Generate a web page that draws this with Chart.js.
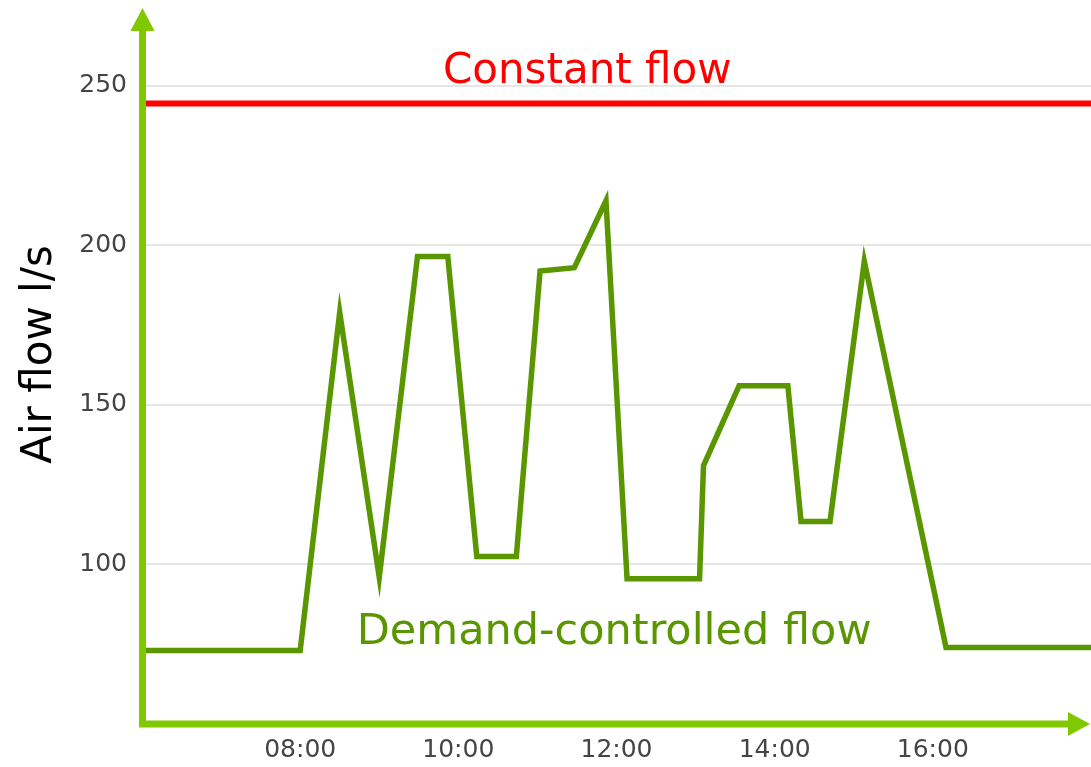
<!DOCTYPE html>
<html>
<head>
<meta charset="utf-8">
<script src="https://cdn.jsdelivr.net/npm/chart.js@4/dist/chart.umd.min.js"></script>
<style>
  html, body { margin: 0; padding: 0; background: #ffffff; }
  #wrap { width: 1091px; height: 767px; position: relative; }
</style>
</head>
<body>
<div id="wrap"><canvas id="c"></canvas></div>
<script>
// ---- data ----
const times = ['06:00','08:00','08:30','09:00','09:29','09:52','10:14','10:44','11:02','11:28','11:52','12:08','13:03','13:06','13:33','14:10','14:20','14:42','15:08','16:10','18:00'];
const demandFlow = [73, 73, 179, 96, 196.5, 196.5, 102.5, 102.5, 192, 193, 214, 95.5, 95.5, 131, 156, 156, 113.5, 113.5, 195, 74, 74];
const constantTimes = ['06:00', '18:00'];
const constantFlow = [244.5, 244.5];
const xTickLabels = ['08:00', '10:00', '12:00', '14:00', '16:00'];
const yTickValues = [100, 150, 200, 250];
const yAxisTitle = 'Air flow l/s';
const constantLabel = 'Constant flow';
const demandLabel = 'Demand-controlled flow';

function toHours(s) { const p = s.split(':').map(Number); return p[0] + p[1] / 60; }
function fmtHour(h) { const hh = Math.floor(h), mm = Math.round((h - hh) * 60); return String(hh).padStart(2, '0') + ':' + String(mm).padStart(2, '0'); }

const demandPoints = times.map((t, i) => ({ x: toHours(t), y: demandFlow[i] }));
const constantPoints = constantTimes.map((t, i) => ({ x: toHours(t), y: constantFlow[i] }));

const AXIS_GREEN = '#80c800';
const LINE_GREEN = '#5a9600';
const RED = '#ff0000';

// Draws the arrow-headed axes
const arrowAxes = {
  id: 'arrowAxes',
  afterDraw(chart, args, o) {
    const { ctx, chartArea: a } = chart;
    const x0 = a.left + 0.5, y0 = a.bottom;
    ctx.save();
    ctx.strokeStyle = o.color;
    ctx.fillStyle = o.color;
    ctx.lineWidth = o.width;
    ctx.beginPath();
    ctx.moveTo(x0, y0 + o.width / 2);
    ctx.lineTo(x0, a.top + 1);
    ctx.moveTo(x0 - o.width / 2, y0);
    ctx.lineTo(a.right - o.head, y0);
    ctx.stroke();
    // vertical arrow head
    ctx.beginPath();
    ctx.moveTo(x0, a.top - o.head);
    ctx.lineTo(x0 - o.half, a.top + 1);
    ctx.lineTo(x0 + o.half, a.top + 1);
    ctx.closePath();
    ctx.fill();
    // horizontal arrow head
    ctx.beginPath();
    ctx.moveTo(a.right - 1, y0);
    ctx.lineTo(a.right - 1 - o.head, y0 - o.half);
    ctx.lineTo(a.right - 1 - o.head, y0 + o.half);
    ctx.closePath();
    ctx.fill();
    ctx.restore();
  }
};

// Inline series labels anchored in data coordinates
const seriesLabels = {
  id: 'seriesLabels',
  afterDatasetsDraw(chart, args, o) {
    const { ctx, scales: { x, y } } = chart;
    o.items.forEach(it => {
      ctx.save();
      ctx.font = it.font;
      ctx.fillStyle = it.color;
      ctx.textAlign = 'center';
      ctx.textBaseline = 'alphabetic';
      ctx.fillText(it.text, x.getPixelForValue(it.x), y.getPixelForValue(it.y));
      ctx.restore();
    });
  }
};

// Moves the y-axis title along the axis (title only; ticks already configured)
const titleShift = {
  id: 'titleShift',
  afterLayout(chart, args, o) {
    chart.scales.y.bottom -= o.shift;
  }
};

new Chart(document.getElementById('c'), {
  type: 'line',
  data: {
    datasets: [
      {
        label: demandLabel,
        data: demandPoints,
        borderColor: LINE_GREEN,
        borderWidth: 5.5,
        pointRadius: 0,
        tension: 0,
        fill: false,
        borderJoinStyle: 'miter'
      },
      {
        label: constantLabel,
        data: constantPoints,
        borderColor: RED,
        borderWidth: 6,
        pointRadius: 0,
        fill: false
      }
    ]
  },
  options: {
    responsive: true,
    maintainAspectRatio: false,
    animation: false,
    layout: { padding: { top: 28, right: 0, bottom: 0, left: 0 } },
    plugins: {
      legend: { display: false },
      tooltip: { enabled: false },
      arrowAxes: { color: AXIS_GREEN, width: 7, head: 22, half: 12 },
      titleShift: { shift: 45 },
      seriesLabels: {
        items: [
          { text: constantLabel, x: 11.63, y: 251, color: RED, font: '42px "DejaVu Sans"' },
          { text: demandLabel, x: 11.97, y: 75, color: LINE_GREEN, font: '43px "DejaVu Sans"' }
        ]
      }
    },
    scales: {
      x: {
        type: 'linear',
        min: 6,
        max: 18,
        afterFit: s => { s.height = 43; },
        afterBuildTicks: s => { s.ticks = xTickLabels.map(t => ({ value: toHours(t) })); },
        grid: { display: false, drawTicks: false },
        border: { display: false },
        ticks: {
          padding: 11,
          color: '#454545',
          font: { family: 'DejaVu Sans', size: 25 },
          maxRotation: 0,
          autoSkip: false,
          callback: v => fmtHour(v)
        }
      },
      y: {
        type: 'linear',
        min: 50,
        max: 267.5,
        afterFit: s => { s.width = 142; },
        afterBuildTicks: s => { s.ticks = yTickValues.map(v => ({ value: v })); },
        grid: { color: '#e6e6e6', lineWidth: 2, drawTicks: false },
        border: { display: false },
        ticks: {
          padding: 15,
          color: '#454545',
          font: { family: 'DejaVu Sans', size: 25 },
          callback: v => String(v)
        },
        title: {
          display: true,
          text: yAxisTitle,
          color: '#000000',
          font: { family: 'DejaVu Sans', size: 42 },
          padding: { top: 15, bottom: 0 }
        }
      }
    }
  },
  plugins: [arrowAxes, seriesLabels, titleShift]
});
</script>
</body>
</html>
